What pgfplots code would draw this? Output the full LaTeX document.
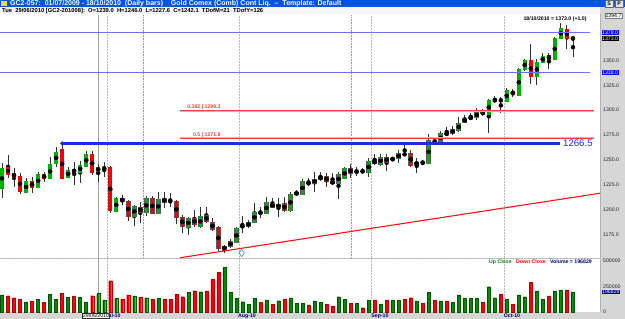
\documentclass[border=0pt]{standalone}
\usepackage{pgfplots}
\usepackage{pgfplotstable}
\usepackage{fontspec}
\setmainfont{Liberation Sans}
\pgfplotsset{compat=1.18}
\definecolor{cgreen}{RGB}{0,176,0}
\definecolor{cred}{RGB}{240,0,0}
\definecolor{cborder}{RGB}{90,90,90}
\definecolor{vgreen}{RGB}{0,140,0}
\definecolor{vred}{RGB}{255,0,0}
\definecolor{titleblue}{RGB}{0,84,227}
\definecolor{navy}{RGB}{0,0,128}
\definecolor{bg}{RGB}{214,214,214}
\definecolor{lineblue}{RGB}{110,110,255}
\definecolor{fibred}{RGB}{255,60,60}
\definecolor{trendred}{RGB}{255,20,20}
\definecolor{lblue}{RGB}{25,45,235}
\definecolor{wickc}{RGB}{50,50,50}
\newcommand{\hdrfont}{\fontsize{7}{8}\selectfont\bfseries}
\newcommand{\infofont}{\fontsize{5.8}{7}\selectfont\bfseries}
\newcommand{\tf}{\fontsize{5.2}{6}\selectfont}
\newcommand{\smb}{\fontsize{5.2}{6}\selectfont\bfseries}
\pgfplotsset{
  eb/.style 2 args={only marks, mark=none,
    /pgfplots/error bars/y dir=both, /pgfplots/error bars/y explicit,
    /pgfplots/error bars/error mark=none,
    /pgfplots/error bars/error bar style={line width=#2, draw=#1, line cap=butt}},
}
\pgfplotstableread{
i O H L C
1 1221.3 1246.4 1211.2 1241.4
5 1217.2 1231.3 1216.2 1228.3
7 1222.3 1237.4 1221.3 1235.4
9 1231.3 1252.5 1230.3 1245.4
10 1246.4 1262.5 1242.4 1257.5
12 1232.3 1242.4 1231.5 1239.4
14 1237.4 1248.4 1226.3 1244.4
15 1243.4 1258.5 1242.4 1255.5
17 1239.0 1246.0 1227.6 1242.1
18 1240.4 1247.4 1232.3 1242.4
20 1198.1 1212.2 1197.1 1211.2
23 1193.1 1204.2 1183.0 1203.2
25 1197.1 1213.2 1193.1 1211.2
27 1196.1 1217.2 1195.1 1210.2
32 1182.0 1192.1 1174.0 1191.1
34 1183.0 1202.2 1181.0 1193.1
38 1159.9 1163.9 1155.9 1162.9
39 1162.9 1170.0 1160.9 1167.9
40 1166.9 1182.0 1165.9 1181.0
42 1183.0 1189.1 1181.0 1187.1
43 1187.1 1206.2 1186.1 1197.1
45 1196.1 1212.2 1195.1 1207.2
47 1202.2 1211.2 1192.1 1205.2
49 1199.1 1217.2 1197.1 1215.2
50 1215.2 1219.3 1213.2 1217.2
51 1215.2 1230.3 1214.2 1228.3
53 1226.3 1237.4 1217.2 1230.3
54 1230.3 1237.4 1228.3 1233.3
57 1226.3 1237.4 1210.2 1235.4
58 1231.3 1242.4 1230.3 1241.4
62 1237.4 1251.5 1232.3 1248.4
64 1245.4 1255.5 1243.4 1252.5
67 1251.5 1259.5 1246.4 1256.5
70 1245.4 1251.5 1236.4 1247.4
72 1246.4 1275.6 1245.4 1269.6
74 1267.5 1278.6 1266.5 1276.6
76 1276.6 1283.6 1274.6 1280.6
77 1279.6 1292.7 1277.6 1286.7
78 1287.7 1294.7 1286.7 1291.7
79 1291.7 1296.7 1289.7 1292.7
80 1292.7 1301.8 1289.7 1297.7
82 1295.7 1310.8 1276.6 1309.8
85 1308.8 1321.9 1307.8 1319.9
87 1314.8 1342.0 1313.8 1341.0
88 1341.0 1351.0 1339.0 1350.0
90 1333.9 1351.0 1324.9 1348.0
91 1348.0 1357.1 1347.0 1354.1
93 1351.0 1373.2 1350.0 1372.2
94 1372.2 1387.3 1371.2 1382.2
96 1371.2 1373.5 1353.1 1373.0
}\upc
\pgfplotstableread{
i O H L C
2 1242.4 1254.5 1231.3 1235.4
3 1236.4 1241.4 1222.3 1232.3
4 1233.3 1236.4 1215.2 1218.3
6 1228.3 1232.3 1216.2 1222.3
8 1235.4 1237.4 1227.3 1231.3
11 1260.5 1266.5 1230.3 1231.3
13 1240.4 1247.4 1224.3 1237.4
16 1255.5 1258.5 1234.4 1237.4
19 1242.4 1243.4 1196.1 1199.1
21 1211.2 1214.2 1204.2 1208.2
22 1208.2 1209.2 1188.1 1193.1
24 1202.2 1207.2 1186.1 1197.1
26 1211.2 1213.2 1195.1 1196.1
28 1211.2 1217.2 1201.2 1207.2
30 1208.2 1209.2 1185.1 1192.1
31 1192.1 1194.1 1176.0 1183.0
33 1191.1 1199.1 1182.0 1185.1
35 1194.1 1202.2 1186.1 1188.1
36 1187.1 1191.1 1178.0 1180.0
37 1182.0 1183.0 1157.9 1160.9
46 1206.2 1211.2 1201.2 1202.2
48 1206.2 1212.2 1197.1 1199.1
55 1233.3 1236.4 1222.3 1228.3
56 1228.3 1236.4 1224.3 1226.3
59 1241.4 1245.4 1231.3 1236.4
63 1249.4 1255.5 1244.4 1246.4
65 1252.5 1255.5 1238.4 1247.4
69 1256.5 1259.5 1242.4 1244.4
75 1276.6 1282.6 1273.6 1275.6
81 1298.7 1300.7 1293.7 1295.7
86 1318.9 1320.9 1312.8 1315.8
89 1350.0 1366.1 1325.9 1333.9
92 1355.1 1357.1 1341.0 1351.0
95 1381.2 1385.2 1361.1 1372.0
}\dnc
\pgfplotstableread{
i O H L C
29 1208.2 1216.2 1202.2 1208.2
41 1183.0 1193.1 1176.0 1183.0
44 1197.1 1202.2 1191.1 1197.1
52 1226.3 1231.3 1223.3 1226.3
60 1238.4 1242.4 1233.3 1238.4
61 1238.4 1241.4 1235.4 1238.4
66 1251.0 1252.5 1248.4 1251.0
68 1255.5 1264.5 1254.5 1255.5
71 1247.4 1249.4 1244.4 1247.4
73 1268.6 1271.6 1264.5 1268.6
83 1309.8 1313.8 1306.8 1309.8
84 1309.8 1312.8 1296.7 1309.8
}\djc
\pgfplotstableread{
i V
1 167000
5 92000
7 127000
9 176000
10 127000
12 144000
14 147000
15 98000
17 180000
18 118000
20 134000
23 157000
25 140000
27 134000
32 193000
34 199000
38 441000
39 193000
40 134000
41 101000
42 75000
43 134000
45 118000
47 111000
49 134000
50 85000
51 85000
53 108000
54 95000
57 150000
58 124000
60 85000
62 118000
64 78000
66 118000
67 118000
70 108000
72 190000
74 108000
76 92000
77 167000
78 131000
79 131000
80 131000
82 248000
83 140000
85 127000
87 167000
88 150000
90 206000
91 124000
93 206000
94 216000
96 196829
}\upv
\pgfplotstableread{
i V
2 160000
3 140000
4 127000
6 108000
8 98000
11 180000
13 157000
16 160000
19 307000
21 127000
22 167000
24 147000
26 127000
28 127000
29 127000
30 176000
31 150000
33 209000
35 203000
36 320000
37 386000
44 95000
46 75000
48 127000
52 69000
55 78000
56 59000
59 85000
61 42000
63 118000
65 118000
68 127000
69 140000
71 85000
73 118000
75 108000
81 95000
84 176000
86 78000
89 294000
92 157000
95 216000
}\dnv
\begin{document}
\begin{tikzpicture}[x=1pt,y=1pt]
\useasboundingbox (0,0) rectangle (625,319);
\fill[bg] (0,0) rectangle (625,319);
\fill[titleblue] (0,311.7) rectangle (625,319);
\fill[gray!7] (0,304.5) rectangle (600,311.7);
\fill[white] (0,61) rectangle (600,304.5);
\fill[white] (0,7) rectangle (600,60);
\fill[yellow!80!orange] (1,312.6) rectangle (7,318.2);
\node[anchor=west, text=white, font=\hdrfont, inner sep=0pt] at (10,315.3) {GC2-057:\ \ 01/07/2009 - 18/10/2010\ \ (Daily bars)\ \ \ \ Gold Comex (Comb) Cont Liq.\ \ --\ \ Template: Default};
\node[anchor=west, font=\infofont, inner sep=0pt] at (2,308) {Tue\ \ 29/06/2010 [GC2-201008]:\ \ O=1239.0\ \ H=1246.0\ \ L=1227.6\ \ C=1242.1\ \ TDofM=21\ \ TDofY=126};
\node[draw=black!60, fill=gray!20, font=\smb, minimum width=8pt, minimum height=6.5pt, inner sep=0pt] at (609,315.3) {S};
\node[draw=black!60, fill=gray!20, font=\smb, minimum width=8pt, minimum height=6.5pt, inner sep=0pt] at (619,315.3) {P};
\draw[gray!60, line width=0.4pt] (600,61) -- (600,304.5);
\draw[gray!60, line width=0.4pt] (600,7) -- (600,60);
\draw[gray!60, densely dotted, line width=0.5pt] (0,60.3) -- (600,60.3);

% ---------- price panel ----------
\begin{axis}[at={(0,61)}, anchor=south west, scale only axis,
  width=600pt, height=242.5pt, xmin=0.667, xmax=100.5, ymin=1150.9, ymax=1394.8,
  axis line style={draw=none}, xtick=\empty,
  ytick={1175,1200,1225,1250,1275,1300,1325,1350},
  yticklabels={1175.0,1200.0,1225.0,1250.0,1275.0,1300.0,1325.0,1350.0},
  yticklabel pos=right, major tick length=0pt,
  yticklabel style={font=\tf, inner sep=0pt, xshift=3pt, text=black!85},
  /pgf/number format/assume math mode=true,
  clip mode=individual]
% grid lines
\addplot[gray!55, densely dotted, line width=0.5pt] coordinates {(18.5,1150) (18.5,1400)};
\addplot[gray!55, densely dotted, line width=0.5pt] coordinates {(40.5,1150) (40.5,1400)};
\addplot[gray!55, densely dotted, line width=0.5pt] coordinates {(62.5,1150) (62.5,1400)};
\addplot[gray!55, densely dotted, line width=0.5pt] coordinates {(84.5,1150) (84.5,1400)};
\addplot[lineblue!80, densely dotted, line width=0.6pt] coordinates {(24.5,1150) (24.5,1400)};
\addplot[lineblue!80, densely dotted, line width=0.6pt] coordinates {(59.05,1150) (59.05,1400)};
\addplot[gray!75, line width=1.3pt] coordinates {(17,1150) (17,1400)};
% wicks
\addplot[eb={wickc}{0.9pt}] table[x=i, y expr={(\thisrow{H}+\thisrow{L})/2}, y error expr={(\thisrow{H}-\thisrow{L})/2}] {\upc};
\addplot[eb={wickc}{0.9pt}] table[x=i, y expr={(\thisrow{H}+\thisrow{L})/2}, y error expr={(\thisrow{H}-\thisrow{L})/2}] {\dnc};
\addplot[eb={wickc}{0.9pt}] table[x=i, y expr={(\thisrow{H}+\thisrow{L})/2}, y error expr={(\thisrow{H}-\thisrow{L})/2}] {\djc};
% bodies
\addplot[eb={cborder}{4.6pt}] table[x=i, y expr={(\thisrow{O}+\thisrow{C})/2}, y error expr={abs(\thisrow{C}-\thisrow{O})/2+0.75}] {\upc};
\addplot[eb={cgreen}{3.4pt}] table[x=i, y expr={(\thisrow{O}+\thisrow{C})/2}, y error expr={abs(\thisrow{C}-\thisrow{O})/2+0.25}] {\upc};
\addplot[eb={cborder}{4.6pt}] table[x=i, y expr={(\thisrow{O}+\thisrow{C})/2}, y error expr={abs(\thisrow{C}-\thisrow{O})/2+0.75}] {\dnc};
\addplot[eb={cred}{3.4pt}] table[x=i, y expr={(\thisrow{O}+\thisrow{C})/2}, y error expr={abs(\thisrow{C}-\thisrow{O})/2+0.25}] {\dnc};
\addplot[eb={black}{4.4pt}] table[x=i, y expr={(\thisrow{O}+\thisrow{C})/2}, y error expr={0.55}] {\djc};
% horizontal levels
\addplot[lineblue, line width=0.8pt] coordinates {(0.667,1378.0) (98.8,1378.0)};
\addplot[lineblue, line width=0.8pt] coordinates {(0.667,1338.0) (98.8,1338.0)};
\addplot[fibred!45, line width=1.4pt] coordinates {(30.6,1299.3) (99.5,1299.3)};
\addplot[fibred, line width=0.7pt] coordinates {(30.6,1299.3) (99.5,1299.3)};
\addplot[fibred!45, line width=1.4pt] coordinates {(30.6,1271.8) (99.5,1271.8)};
\addplot[fibred, line width=0.7pt] coordinates {(30.6,1271.8) (99.5,1271.8)};
\addplot[lblue, line width=2.6pt] coordinates {(11,1266.5) (93.85,1266.5)};
\addplot[only marks, mark=*, mark size=1.8pt, lblue] coordinates {(11,1266.5)};
\addplot[trendred, line width=1.1pt] coordinates {(30.6,1151.5) (100.5,1216.4)};
\addplot[only marks, mark=diamond, mark size=3.6pt, draw=cyan!60!blue!80, fill=cyan!10, line width=0.6pt] coordinates {(40.88,1156.2)};
% texts
\node[anchor=south east, font=\smb, text=fibred, inner sep=0.6pt] at (axis cs:37.5,1299.3) {0.382 | 1299.3};
\node[anchor=south east, font=\smb, text=fibred, inner sep=0.6pt] at (axis cs:37.5,1271.8) {0.5 | 1271.8};
\node[anchor=west, font=\fontsize{9.6}{10}\selectfont, text=lblue, inner sep=0pt] at (axis cs:94.35,1266.5) {1266.5};
\node[anchor=east, font=\smb, inner sep=0pt] at (axis cs:98.3,1391.8) {18/10/2010 = 1373.0 (+1.0)};
\node[anchor=west, fill=blue, text=white, font=\tf, inner sep=0.5pt, xshift=1.5pt] at (axis cs:100.5,1378.0) {1378.0};
\node[anchor=west, fill=black, text=white, font=\tf, inner sep=0.5pt, xshift=1.5pt] at (axis cs:100.5,1372.0) {1373.0};
\node[anchor=west, fill=blue, text=white, font=\tf, inner sep=0.5pt, xshift=1.5pt] at (axis cs:100.5,1338.0) {1338.0};
\end{axis}

% ---------- volume panel ----------
\begin{axis}[at={(0pt,60pt)}, anchor=north west, scale only axis,
  width=600pt, height=53pt, xmin=0.667, xmax=100.5, ymin=0, ymax=519600,
  axis line style={draw=none}, scaled y ticks=false,
  ytick={0,250000,500000}, yticklabels={0,250000,500000},
  yticklabel pos=right, major tick length=0pt,
  yticklabel style={font=\tf, inner sep=0pt, xshift=3pt, text=black!85},
  xtick=\empty,
  /pgf/number format/assume math mode=true,
  clip=true]
\addplot[gray!55, densely dotted, line width=0.5pt] coordinates {(18.5,0) (18.5,519000)};
\addplot[gray!55, densely dotted, line width=0.5pt] coordinates {(40.5,0) (40.5,519000)};
\addplot[gray!55, densely dotted, line width=0.5pt] coordinates {(62.5,0) (62.5,519000)};
\addplot[gray!55, densely dotted, line width=0.5pt] coordinates {(84.5,0) (84.5,519000)};
\addplot[gray!75, line width=1.3pt] coordinates {(17,0) (17,519000)};
\addplot[ybar, bar width=3pt, bar shift=0pt, fill=vgreen, draw=vgreen!60!black, line width=0.3pt] table[x=i, y=V] {\upv};
\addplot[ybar, bar width=3pt, bar shift=0pt, fill=vred, draw=vred!70!black, line width=0.3pt] table[x=i, y=V] {\dnv};
\end{axis}
\node[anchor=east, font=\smb, inner sep=0pt] at (592,56.6) {\textcolor{vgreen}{Up Close}\ \ \ \textcolor{vred}{Down Close}\ \ \ \textcolor{navy}{Volume = 196829}};
\node[anchor=west, fill=navy, text=white, font=\tf, inner sep=0.5pt] at (601.5,27.1) {196829};
\node[font=\smb, text=navy, inner sep=0pt] at (113,3.2) {Jul-10};
\node[font=\smb, text=navy, inner sep=0pt] at (247,3.2) {Aug-10};
\node[font=\smb, text=navy, inner sep=0pt] at (380,3.2) {Sep-10};
\node[font=\smb, text=navy, inner sep=0pt] at (512,3.2) {Oct-10};
\node[draw=black!80, fill=white, font=\tf, inner sep=0.5pt] at (96,3.3) {29/06/2010};
\node[draw=gray, fill=white, font=\tf, inner sep=0.6pt] at (613.5,303.4) {1394.7};
\end{tikzpicture}
\end{document}
